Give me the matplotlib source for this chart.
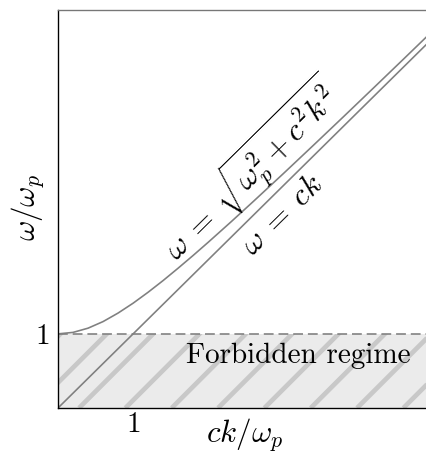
import numpy as np
import matplotlib
matplotlib.use("Agg")
import matplotlib.pyplot as plt

# values (units of omega_p)
k_curve = [0.0, 0.2, 0.4, 0.6, 0.8, 1.0, 1.2, 1.4, 1.6, 1.8, 2.0, 2.3, 2.6,
           3.0, 3.4, 3.8, 4.2, 4.6, 4.9]
w_curve = [1.000, 1.020, 1.077, 1.166, 1.281, 1.414, 1.562, 1.720, 1.887,
           2.059, 2.236, 2.508, 2.786, 3.162, 3.544, 3.929, 4.317, 4.707, 5.001]
k_light = [0.0, 4.9]
w_light = [0.0, 4.9]
w_cutoff = 1.0
xticks = [1]
yticks = [1]

plt.rcParams['font.family'] = 'serif'
plt.rcParams['font.serif'] = ['cmr10']
plt.rcParams['mathtext.fontset'] = 'cm'
plt.rcParams['axes.formatter.use_mathtext'] = True

DPI = 280
fig = plt.figure(figsize=(426 / DPI, 456 / DPI), dpi=DPI)
ax = fig.add_axes([58 / 426, 48 / 456, 1 - 58 / 426, 398 / 456])

fs = 7.5
fs_math = 8.0
lw = 0.42
gray = '#808080'
xmax, ymax = 4.9, 5.37

# forbidden band + diagonal stripes
band = ax.fill_between([0, xmax], 0, w_cutoff, facecolor='#ebebeb', linewidth=0)
ratio = (368 / xmax) / (398 / ymax)
for x0 in np.arange(0.28 - 0.617 * 3, xmax, 0.617):
    ln, = ax.plot([x0, x0 + 2], [0, 2 * ratio], color='#c8c8c8', lw=1.2,
                  solid_capstyle='butt')
    ln.set_clip_path(band.get_paths()[0], ax.transData)

ax.axhline(w_cutoff, color=gray, lw=lw, ls=(0, (6, 3)))
ax.plot(k_curve, w_curve, color=gray, lw=lw)
ax.plot(k_light, w_light, color=gray, lw=lw)

ax.text(2.58, 3.22, r'$\omega\;=\;\sqrt{\omega_p^2 + c^2k^2}$', fontsize=fs_math,
        rotation=44.6, ha='center', va='center', rotation_mode='anchor')
ax.text(3.0, 2.6, r'$\omega\;=\;ck$', fontsize=fs_math,
        rotation=44.6, ha='center', va='center', rotation_mode='anchor')
ax.text(4.7, 0.70, 'Forbidden regime', fontsize=fs, ha='right', va='center')

ax.set_xlim(0, xmax)
ax.set_ylim(0, ymax)
ax.set_xticks(xticks)
ax.set_yticks(yticks)
ax.tick_params(length=0, labelsize=fs)
ax.tick_params(axis='x', pad=1.0)
ax.tick_params(axis='y', pad=2.2)
ax.set_xlabel(r'$ck/\omega_p$', fontsize=fs_math, va='center')
ax.set_ylabel(r'$\omega/\omega_p$', fontsize=fs_math, va='center')
ax.xaxis.set_label_coords(0.508, -0.07)
ax.yaxis.set_label_coords(-0.08, 0.505)

for s in ['left', 'bottom']:
    ax.spines[s].set_linewidth(0.35)
ax.spines['top'].set_linewidth(0.35)
ax.spines['top'].set_color('#777777')
ax.spines['right'].set_visible(False)

fig.savefig('out.png', dpi=DPI)
